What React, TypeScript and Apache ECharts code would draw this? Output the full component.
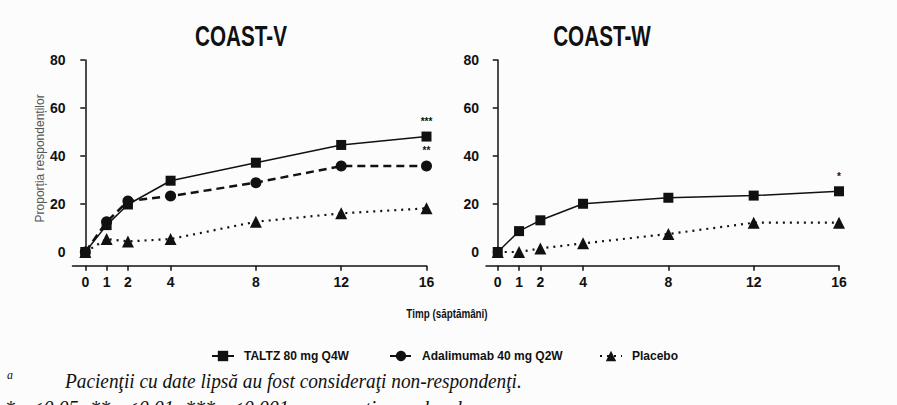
import React, { useEffect, useRef } from "react";
import * as echarts from "echarts";

const weeks = [0, 1, 2, 4, 8, 12, 16];
const yTicks = [0, 20, 40, 60, 80];
const coastV_taltz = [0, 11.2, 19.8, 29.7, 37.2, 44.6, 48.1];
const coastV_adalimumab = [0, 12.6, 21.2, 23.3, 28.9, 35.8, 35.8];
const coastV_placebo = [0, 5.4, 4.4, 5.4, 12.6, 16.1, 18.2];
const coastW_taltz = [0, 8.7, 13.2, 20.1, 22.6, 23.5, 25.3];
const coastW_placebo = [0, 0, 1.5, 3.6, 7.5, 12.2, 12.2];
const sigV_taltz = "***";
const sigV_adalimumab = "**";
const sigW_taltz = "*";
const titles = ["COAST-V", "COAST-W"];
const seriesNames = ["TALTZ 80 mg Q4W", "Adalimumab 40 mg Q2W", "Placebo"];
const yAxisName = "Proporția respondenților";
const xAxisName = "Timp (săptămâni)";
const footnote = "Pacienţii cu date lipsă au fost consideraţi non-respondenţi.";
const footnote2 = "* p<0.05; ** p<0.01; *** p<0.001 comparativ cu placebo";

const SANS = "'Liberation Sans', Arial, sans-serif";
const INK = "#111";

function build(values: number[], sig?: string) {
  return values.map((v, i) => {
    if (sig && i === values.length - 1) {
      return {
        value: [weeks[i], v],
        label: {
          show: true,
          formatter: sig,
          position: "top",
          distance: 5,
          fontSize: 10,
          fontWeight: "bold",
          color: INK,
          fontFamily: SANS,
        },
      };
    }
    return { value: [weeks[i], v] };
  });
}

export default function App() {
  const ref = useRef<HTMLDivElement>(null);
  useEffect(() => {
    if (!ref.current) return;
    const chart = echarts.init(ref.current, null, { renderer: "svg" });
    const xAxisBase = (gridIndex: number, min: number) => ({
      type: "value",
      gridIndex,
      min,
      max: 16,
      offset: 9,
      position: "bottom",
      axisLine: { onZero: false, lineStyle: { color: INK, width: 1.5 } },
      axisTick: { show: true, length: 5, customValues: weeks, lineStyle: { color: INK, width: 1.5 } },
      axisLabel: {
        customValues: weeks,
        margin: 9,
        fontSize: 14,
        fontWeight: "bold",
        color: INK,
        fontFamily: SANS,
      },
      splitLine: { show: false },
    });
    const yAxisBase = (gridIndex: number, withName: boolean) => ({
      type: "value",
      gridIndex,
      min: -2,
      max: 80,
      axisLine: { show: true, lineStyle: { color: INK, width: 1.5 } },
      axisTick: { show: true, length: 5, customValues: yTicks, lineStyle: { color: INK, width: 1.5 } },
      axisLabel: {
        customValues: yTicks,
        margin: 7,
        fontSize: 14,
        fontWeight: "bold",
        color: INK,
        fontFamily: SANS,
      },
      splitLine: { show: false },
      name: withName ? yAxisName : "",
      nameLocation: "middle",
      nameGap: 27,
      nameRotate: 90,
      nameTextStyle: { fontSize: 12, color: "#555", fontFamily: SANS },
    });
    const lineTaltz = { color: INK, width: 1.5, type: "solid" };
    const lineAda = { color: INK, width: 2.5, type: [8, 5] };
    const linePla = { color: INK, width: 2.2, type: [2, 5] };
    const mk = (name: string, xi: number, data: any[], symbol: string, size: number, ls: any, z: number) => ({
      type: "line",
      name,
      xAxisIndex: xi,
      yAxisIndex: xi,
      data,
      symbol,
      symbolSize: size,
      showSymbol: true,
      itemStyle: { color: INK },
      lineStyle: ls,
      z,
    });
    const legendBase = (name: string, left: number) => ({
      data: [name],
      left,
      top: 345,
      itemWidth: 22,
      itemHeight: 13,
      textStyle: {
        fontSize: 12,
        fontWeight: "bold",
        color: INK,
        fontFamily: SANS,
        padding: [0, 0, 0, 5],
      },
      selectedMode: false,
    });
    chart.setOption({
      animation: false,
      backgroundColor: "#fcfcfc",
      grid: [
        { left: 72.5, top: 60, width: 354, height: 196.8 },
        { left: 486, top: 60, width: 353, height: 196.8 },
      ],
      xAxis: [xAxisBase(0, -0.6), xAxisBase(1, -0.55)],
      yAxis: [yAxisBase(0, true), yAxisBase(1, false)],
      legend: [
        legendBase(seriesNames[0], 206),
        legendBase(seriesNames[1], 384),
        legendBase(seriesNames[2], 594),
      ],
      series: [
        mk(seriesNames[2], 0, build(coastV_placebo), "triangle", 12, linePla, 2),
        mk(seriesNames[1], 0, build(coastV_adalimumab, sigV_adalimumab), "circle", 11, lineAda, 3),
        mk(seriesNames[0], 0, build(coastV_taltz, sigV_taltz), "rect", 10, lineTaltz, 4),
        mk(seriesNames[2], 1, build(coastW_placebo), "triangle", 12, linePla, 2),
        mk(seriesNames[0], 1, build(coastW_taltz, sigW_taltz), "rect", 10, lineTaltz, 4),
      ],
      graphic: [
        {
          type: "text",
          x: 241,
          y: 36,
          scaleX: 0.69,
          style: {
            text: titles[0],
            font: "bold 30px " + SANS,
            fill: INK,
            textAlign: "center",
            textVerticalAlign: "middle",
          },
        },
        {
          type: "text",
          x: 602,
          y: 36,
          scaleX: 0.69,
          style: {
            text: titles[1],
            font: "bold 30px " + SANS,
            fill: INK,
            textAlign: "center",
            textVerticalAlign: "middle",
          },
        },
        {
          type: "text",
          x: 447,
          y: 314,
          scaleX: 0.82,
          style: {
            text: xAxisName,
            font: "bold 12px " + SANS,
            fill: INK,
            textAlign: "center",
            textVerticalAlign: "middle",
          },
        },
        {
          type: "text",
          x: 7,
          y: 375,
          style: {
            text: "a",
            font: "italic 12px 'Liberation Serif', serif",
            fill: INK,
            textAlign: "left",
            textVerticalAlign: "middle",
          },
        },
        {
          type: "text",
          x: 65,
          y: 381,
          scaleX: 0.965,
          style: {
            text: footnote,
            font: "italic 20px 'Liberation Serif', serif",
            fill: INK,
            textAlign: "left",
            textVerticalAlign: "middle",
          },
        },
        {
          type: "text",
          x: 5,
          y: 398,
          style: {
            text: footnote2,
            font: "italic 20px 'Liberation Serif', serif",
            fill: INK,
            textAlign: "left",
            textVerticalAlign: "top",
          },
        },
      ],
    });
    return () => chart.dispose();
  }, []);
  return (
    <div
      ref={ref}
      style={{ position: "fixed", left: 0, top: 0, width: 897, height: 405 }}
    />
  );
}
